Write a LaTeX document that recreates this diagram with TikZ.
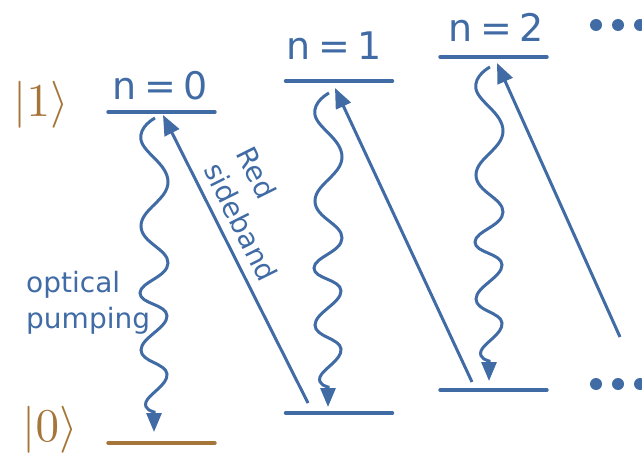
\documentclass[tikz,border=0pt]{standalone}
\usepackage{fontspec}
\newfontfamily\labelfont{DejaVu Sans}
\usepackage{tikz}
\usetikzlibrary{arrows.meta, calc}

\definecolor{levelblue}{RGB}{64,107,165}
\definecolor{groundbrown}{RGB}{166,117,57}

\begin{document}
\begin{tikzpicture}[x=1pt, y=1pt]
    \tikzset{
        level/.style={line width=3.4pt, levelblue, line cap=round},
        sideband/.style={line width=3pt, levelblue, -{Triangle[length=20pt, width=16pt]}},
        photon/.pic={
                \draw[line width=3pt, levelblue, -{Triangle[length=19pt, width=15pt]}]
                plot[smooth, tension=0.75] coordinates {(0,0) (-14,-22) (13,-64) (-14,-108) (13,-145) (-15,-175) (12,-198) (-14,-232) (12,-256) (-9,-284) (-1,-294)} -- (-1,-314);
            },
        nlabel/.style={font=\labelfont\fontsize{38}{40}\selectfont, text=levelblue, inner sep=0pt, anchor=base},
        ketlabel/.style={text=groundbrown, inner sep=0pt, scale=4.7},
        sidelabel/.style={font=\labelfont\fontsize{28}{36}\selectfont, text=levelblue, inner sep=0pt, align=left}
    }
    \useasboundingbox (0,0) rectangle (642,461);

    % level centres
    \coordinate (up0) at (161.5,349);
    \coordinate (dn0) at (161.5,18);
    \coordinate (up1) at (339,380);
    \coordinate (dn1) at (339,48);
    \coordinate (up2) at (493.5,404);
    \coordinate (dn2) at (493.5,71);

    \draw[level] (up0) ++(-53.5,0) -- ++(107,0);
    \draw[level, groundbrown] (dn0) ++(-53.5,0) -- ++(107,0);
    \draw[level] (up1) ++(-53.5,0) -- ++(107,0);
    \draw[level] (dn1) ++(-53.5,0) -- ++(107,0);
    \draw[level] (up2) ++(-53.5,0) -- ++(107,0);
    \draw[level] (dn2) ++(-53.5,0) -- ++(107,0);

    \node[nlabel] (n0) at (160,361) {n\hspace{0.2em}=\hspace{0.2em}0};
    \node[nlabel] (n1) at (334,401) {n\hspace{0.2em}=\hspace{0.2em}1};
    \node[nlabel] (n2) at (496,419) {n\hspace{0.2em}=\hspace{0.2em}2};

    \node[ketlabel] (ket1) at (41,356) {$|1\rangle$};
    \node[ketlabel] (ket0) at (50,31) {$|0\rangle$};

    % spontaneous decay
    \pic at ($(up0)+(-6.5,-6)$) {photon};
    \pic at ($(up1)+(-10,-12)$) {photon};
    \pic at ($(up2)+(-3.5,-10)$) {photon};

    % red sideband transitions
    \coordinate (rsb) at (620,124);
    \draw[sideband] ($(dn1)+(-31,10)$) -- ($(up0)+(1.5,-3)$);
    \draw[sideband] ($(dn2)+(-21.5,8)$) -- ($(up1)+(-4,-7)$);
    \draw[sideband] (rsb) -- ($(up2)+(3.5,-6)$);

    \node[sidelabel, anchor=west] (pump) at (26,158) {optical\\pumping};
    \node[sidelabel, rotate=-63.5] (redsb) at (257,247) {Red\\sideband};

    % more levels
    \foreach \dx in {596,618,640} {
            \fill[levelblue] (\dx,436) circle (6);
            \fill[levelblue] (\dx,77) circle (6);
        }
\end{tikzpicture}
\end{document}
